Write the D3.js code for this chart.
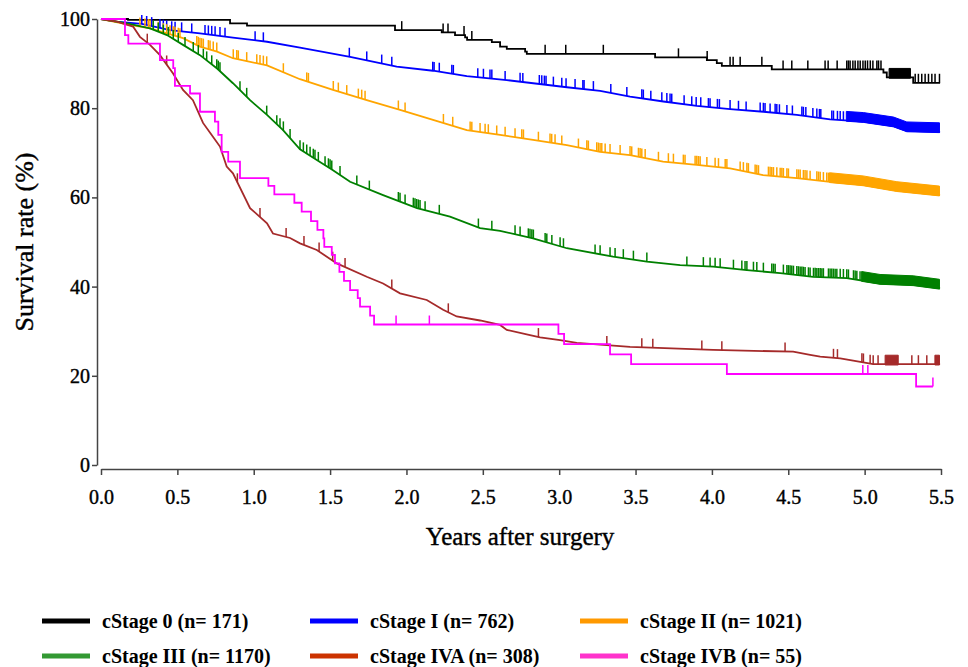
<!DOCTYPE html>
<html lang="en">
<head>
<meta charset="UTF-8">
<title>Survival rate by cStage</title>
<script src="https://d3js.org/d3.v7.min.js"></script>
<style>
  body { margin: 0; background: #fff; }
  svg text { font-family: "Liberation Serif", "Times New Roman", serif; fill: #000; }
  .axis path, .axis line { stroke: #444; stroke-width: 1.5; }
  .axis text { font-size: 20px; stroke: #000; stroke-width: 0.4; }
  .axis-title { font-size: 25px; stroke: #000; stroke-width: 0.4; }
  .legend text { font-size: 20px; font-weight: bold; }
</style>
</head>
<body>
<svg width="968" height="667"></svg>
<script>
// tick labels
const xTicks = [0, 0.5, 1, 1.5, 2, 2.5, 3, 3.5, 4, 4.5, 5, 5.5];
const yTicks = [0, 20, 40, 60, 80, 100];

const stageLabels = ["cStage 0 (n= 171)", "cStage I (n= 762)", "cStage II (n= 1021)",
                     "cStage III (n= 1170)", "cStage IVA (n= 308)", "cStage IVB (n= 55)"];

// survival curves [years, %]
const stage0 = [[0,100],[0.177,99.8],[0.845,99.0],[0.956,98.5],[1.925,97.5],[2.231,97.0],[2.318,96.4],
  [2.384,95.9],[2.397,95.3],[2.559,94.8],[2.613,93.8],[2.657,93.3],[2.777,92.7],[2.788,92.2],[3.628,91.4],
  [3.967,90.8],[4.032,90.1],[4.065,89.5],[4.392,88.7],[5.123,88.0],[5.145,86.9],[5.318,85.7],[5.494,85.7]];
const stage1 = [[0,100],[0.1,99.4],[0.267,98.9],[0.452,97.5],[0.648,96.8],[0.864,95.8],[1.087,94.9],
  [1.303,93.6],[1.631,91.5],[1.936,89.3],[2.174,88.4],[2.395,87.2],[2.657,86.3],[3.050,84.7],[3.268,83.9],
  [3.464,82.6],[3.682,81.5],[3.901,80.5],[4.119,79.8],[4.337,79.2],[4.556,78.5],[4.774,77.5],[4.992,77.0],
  [5.189,76.0],[5.276,74.9],[5.494,74.7]];
const stage2 = [[0,100],[0.19,98.7],[0.321,97.9],[0.432,96.8],[0.537,95.7],[0.648,93.8],[0.760,92.7],
  [0.864,91.2],[1.087,89.6],[1.303,86.5],[1.519,84.1],[1.740,81.8],[1.958,79.6],[2.174,77.4],[2.395,75.1],
  [2.613,74.0],[2.829,72.9],[3.050,71.7],[3.268,70.2],[3.464,69.5],[3.680,68.0],[3.901,67.3],[4.119,66.5],
  [4.335,65.0],[4.556,64.3],[4.774,63.5],[4.990,62.8],[5.211,61.5],[5.494,60.5]];
const stage3 = [[0,100],[0.170,99.0],[0.321,97.9],[0.432,96.4],[0.537,94.2],[0.648,91.9],[0.760,88.9],
  [0.864,85.6],[0.976,81.8],[1.087,78.5],[1.192,75.1],[1.303,70.8],[1.413,68.4],[1.519,66.1],[1.631,63.5],
  [1.847,60.5],[2.069,57.6],[2.285,55.7],[2.482,53.1],[2.613,52.5],[2.829,50.8],[3.050,48.6],[3.353,46.7],
  [3.574,45.6],[3.792,44.8],[4.008,44.5],[4.229,43.7],[4.447,43.0],[4.663,42.2],[4.883,41.9],[5.101,40.7],
  [5.318,40.4],[5.494,39.6]];
const stage4a = [[0,100],[0.105,99.4],[0.210,98.3],[0.255,96.0],[0.321,94.2],[0.386,91.9],[0.472,87.8],
  [0.537,84.1],[0.602,81.8],[0.668,76.7],[0.733,73.6],[0.779,71.4],[0.823,66.9],[0.864,65.4],[0.976,57.6],
  [1.087,54.2],[1.126,51.9],[1.238,50.9],[1.303,49.7],[1.413,48.2],[1.544,45.2],[1.740,42.2],[1.847,40.7],
  [1.958,38.5],[2.133,37.0],[2.240,34.8],[2.329,33.3],[2.482,32.4],[2.613,31.4],[2.657,30.3],[2.809,29.1],
  [2.875,28.6],[3.006,28.0],[3.115,27.4],[3.464,26.5],[4.008,25.8],[4.532,25.4],[4.643,24.7],[4.709,24.3],
  [4.840,23.9],[4.925,23.4],[5.056,22.6],[5.494,22.6]];
const stage4b = [[0,100],[0.157,96.4],[0.179,94.5],[0.386,90.8],[0.473,89.0],[0.484,85.0],[0.583,83.3],
  [0.648,79.2],[0.746,77.0],[0.768,74.0],[0.790,70.2],[0.833,68.0],[0.910,64.3],[1.096,62.6],[1.135,60.7],
  [1.266,58.8],[1.314,56.8],[1.375,54.7],[1.417,52.7],[1.456,50.8],[1.462,48.9],[1.511,47.1],[1.532,45.2],
  [1.561,43.3],[1.591,41.3],[1.631,39.2],[1.681,37.4],[1.696,35.5],[1.762,33.5],[1.788,31.5],[2.995,29.4],
  [3.032,27.1],[3.333,24.8],[3.471,22.6],[4.098,20.4],[5.337,17.6],[5.447,17.6]];

// censoring marks (years)
const cens0 = [1.969,2.240,2.272,2.377,2.428,2.908,3.043,3.289,3.781,3.969,4.119,4.139,4.185,4.327,4.466,
  4.523,4.628,4.741,4.761,4.820,4.883,4.894,4.905,4.923,4.938,4.956,4.971,4.989,5.004,5.019,5.037,5.054,
  5.080,5.091,5.107,5.331,5.352,5.374,5.396,5.418,5.440,5.461,5.490];
const cens1 = [0.267,0.299,0.332,0.386,0.408,0.430,0.463,0.485,0.528,0.594,0.681,0.703,0.725,0.747,0.779,
  0.812,1.009,1.063,1.626,1.740,1.838,1.904,2.172,2.181,2.215,2.297,2.307,2.467,2.504,2.547,2.559,2.646,
  2.744,2.762,2.870,2.886,2.903,2.914,2.962,3.017,3.045,3.104,3.155,3.163,3.224,3.338,3.443,3.541,3.551,
  3.600,3.672,3.705,3.726,3.737,3.818,3.868,3.897,3.927,3.977,3.988,4.036,4.049,4.119,4.174,4.224,4.316,
  4.337,4.348,4.381,4.414,4.425,4.442,4.491,4.527,4.589,4.599,4.615,4.661,4.687,4.704,4.713,4.785,4.796,
  4.822,4.840,4.861];
const cens2 = [0.255,0.288,0.310,0.321,0.375,0.408,0.430,0.452,0.473,0.485,0.506,0.517,0.627,0.637,0.648,
  0.659,0.670,0.703,0.714,0.735,0.758,0.866,0.889,0.899,0.954,1.020,1.041,1.063,1.085,1.194,1.347,1.358,
  1.521,1.554,1.609,1.685,1.707,1.729,1.947,1.991,2.242,2.303,2.417,2.428,2.482,2.515,2.536,2.591,2.646,
  2.711,2.755,2.766,2.864,2.940,2.951,2.973,3.017,3.126,3.181,3.191,3.246,3.257,3.268,3.279,3.301,3.333,
  3.399,3.464,3.475,3.519,3.530,3.541,3.563,3.650,3.715,3.748,3.813,3.824,3.890,3.901,3.912,3.923,3.967,
  4.021,4.043,4.087,4.098,4.185,4.206,4.229,4.239,4.283,4.294,4.305,4.370,4.381,4.392,4.403,4.425,4.447,
  4.458,4.468,4.491,4.501,4.556,4.567,4.578,4.599,4.610,4.622,4.643,4.687,4.698,4.709,4.730,4.752,4.763];
const cens3 = [0.342,0.375,0.408,0.441,0.473,0.506,0.550,0.604,0.637,0.670,0.692,0.725,0.758,0.768,0.779,
  0.910,0.954,1.085,1.151,1.172,1.194,1.238,1.303,1.325,1.347,1.369,1.390,1.401,1.423,1.467,1.489,1.500,
  1.511,1.565,1.675,1.757,1.947,1.958,1.991,2.045,2.056,2.067,2.078,2.089,2.122,2.215,2.471,2.559,2.711,
  2.744,2.798,2.809,2.821,2.831,2.908,2.919,2.952,3.006,3.028,3.235,3.268,3.333,3.366,3.420,3.486,3.574,
  3.836,3.944,3.988,4.021,4.054,4.141,4.196,4.217,4.229,4.272,4.294,4.337,4.392,4.403,4.414,4.468,4.491,
  4.501,4.512,4.523,4.534,4.556,4.567,4.578,4.589,4.599,4.610,4.632,4.643,4.665,4.676,4.687,4.698,4.709,
  4.720,4.730,4.763,4.774,4.785,4.796,4.807,4.818,4.840,4.861,4.883,4.894,4.927,4.938,4.949,4.970];
const cens4a = [0.303,0.430,0.893,1.041,1.212,1.329,1.428,1.517,1.598,1.904,2.274,2.864,3.312,3.541,3.613,
  3.934,4.065,4.479,4.796,4.822,4.982,4.992,5.036,5.056,5.088,5.309,5.352,5.407];
const cens4b = [1.932,2.150,4.988,5.021,5.447];

// spans where the censoring marks merge into a solid block
const block0 = [[5.16,5.30]];
const block1 = [[4.88,5.49]];
const block2 = [[4.77,5.49]];
const block3 = [[4.98,5.49]];
const block4a = [[5.134,5.22],[5.46,5.49]];
const block4b = [];

const lineColors = ["#000000", "#0000ff", "#ffa500", "#008000", "#a52a2a", "#ff00ff"];
const keyColors = ["#000000", "#0000ff", "#ff9900", "#339933", "#cc3300", "#ff33cc"];

const series = [
  { surv: stage0, cens: cens0, block: block0, step: true },
  { surv: stage1, cens: cens1, block: block1, step: false },
  { surv: stage2, cens: cens2, block: block2, step: false },
  { surv: stage3, cens: cens3, block: block3, step: false },
  { surv: stage4a, cens: cens4a, block: block4a, step: false },
  { surv: stage4b, cens: cens4b, block: block4b, step: true }
];

const svg = d3.select("svg");
const x = d3.scaleLinear().domain([0, 5.5]).range([101, 941]);
const y = d3.scaleLinear().domain([0, 100]).range([465, 19]);
const markH = 9;

// value of a curve at time t
function survAt(pts, t, step) {
  const i = Math.max(0, d3.bisector(d => d[0]).right(pts, t) - 1);
  if (step || i >= pts.length - 1) return pts[i][1];
  const a = pts[i], b = pts[i + 1];
  return a[1] + (b[1] - a[1]) * (t - a[0]) / (b[0] - a[0]);
}

// axes
svg.append("g")
    .attr("class", "axis")
    .attr("transform", "translate(97,0)")
    .call(d3.axisLeft(y).tickValues(yTicks).tickSize(5).tickSizeOuter(0).tickPadding(2));

svg.append("g")
    .attr("class", "axis")
    .attr("transform", "translate(0,469)")
    .call(d3.axisBottom(x).tickValues(xTicks).tickFormat(d3.format(".1f"))
        .tickSize(6).tickSizeOuter(0).tickPadding(15));

svg.append("text")
    .attr("class", "axis-title")
    .attr("x", 520).attr("y", 545)
    .attr("text-anchor", "middle")
    .text("Years after surgery");

svg.append("text")
    .attr("class", "axis-title")
    .attr("transform", "translate(33,242) rotate(-90)")
    .attr("text-anchor", "middle")
    .style("font-size", "26px")
    .text("Survival rate (%)");

// curves
series.forEach((s, k) => {
  const curve = s.step ? d3.curveStepAfter : d3.curveLinear;
  const g = svg.append("g").attr("stroke", lineColors[k]).attr("fill", lineColors[k]);

  g.append("path")
      .datum(s.surv)
      .attr("fill", "none")
      .attr("stroke-width", 1.8)
      .attr("d", d3.line().x(d => x(d[0])).y(d => y(d[1])).curve(curve));

  g.selectAll(".mark")
    .data(s.cens)
    .join("line")
      .attr("class", "mark")
      .attr("stroke-width", 1.5)
      .attr("x1", d => x(d)).attr("x2", d => x(d))
      .attr("y1", d => y(survAt(s.surv, d, s.step)))
      .attr("y2", d => y(survAt(s.surv, d, s.step)) - markH);

  s.block.forEach(([a, b]) => {
    const pts = [[a, survAt(s.surv, a, s.step)]]
      .concat(s.surv.filter(d => d[0] > a && d[0] < b))
      .concat([[b, survAt(s.surv, b, s.step)]]);
    g.append("path")
        .datum(pts)
        .attr("stroke-width", 1)
        .attr("d", d3.area().x(d => x(d[0])).y0(d => y(d[1]) + 0.8).y1(d => y(d[1]) - markH).curve(curve));
  });
});

// legend
const cols = [42, 310, 580];
const rows = [621, 656];
const legend = svg.append("g").attr("class", "legend");
stageLabels.forEach((label, i) => {
  const lx = cols[i % 3], ly = rows[Math.floor(i / 3)];
  legend.append("line")
      .attr("x1", lx).attr("x2", lx + 48)
      .attr("y1", ly).attr("y2", ly)
      .attr("stroke", keyColors[i]).attr("stroke-width", 5);
  legend.append("text")
      .attr("x", lx + 60).attr("y", ly + 7)
      .text(label);
});
</script>
</body>
</html>
